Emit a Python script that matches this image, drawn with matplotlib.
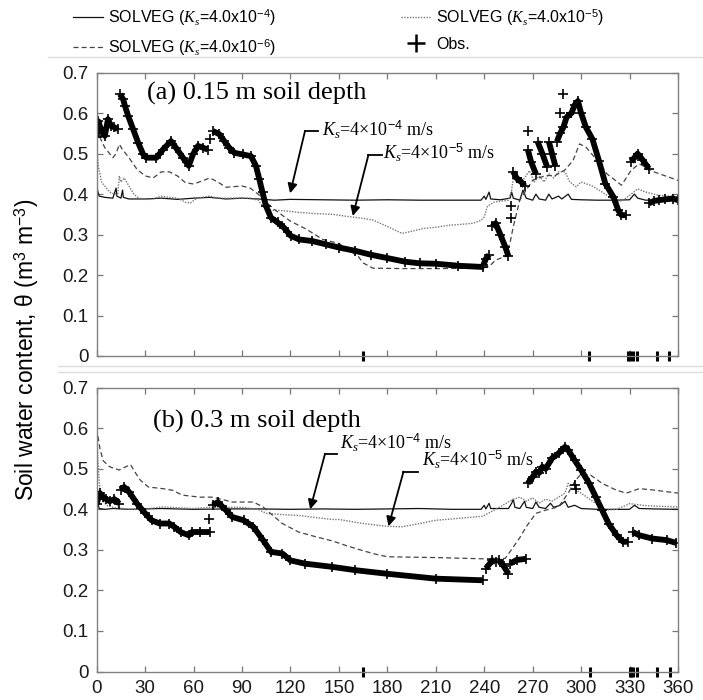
import numpy as np
import matplotlib
matplotlib.use("Agg")
import matplotlib.pyplot as plt
from matplotlib.lines import Line2D

plt.rcParams['font.family'] = ['Liberation Sans', 'DejaVu Sans']
plt.rcParams['mathtext.fontset'] = 'custom'
plt.rcParams['mathtext.rm'] = 'Liberation Sans'
plt.rcParams['mathtext.it'] = 'Liberation Serif:italic'
plt.rcParams['mathtext.sf'] = 'Liberation Sans'

nan = np.nan

# ---------------- data ----------------
x_ticks = [0, 30, 60, 90, 120, 150, 180, 210, 240, 270, 300, 330, 360]
y_ticks = [0, 0.1, 0.2, 0.3, 0.4, 0.5, 0.6, 0.7]
y_tick_labels = ['0', '0.1', '0.2', '0.3', '0.4', '0.5', '0.6', '0.7']

# Panel (a) 0.15 m
a_solid_d = [0, 0.5, 1.5, 5, 10, 12, 12.5, 15, 16, 16.5, 20, 30, 40, 50, 60, 70, 80, 90, 100, 110, 120, 140, 160,
             180, 200, 220, 238, 240, 241, 243, 244, 250, 256, 257, 258, 262, 264, 266, 270, 272, 274, 278, 280,
             282, 286, 288, 292, 294, 300, 310, 320, 330, 333, 335, 340, 350, 360]
a_solid_v = [0.45, 0.41, 0.395, 0.392, 0.39, 0.415, 0.395, 0.39, 0.41, 0.392, 0.388, 0.388, 0.39, 0.387, 0.39,
             0.392, 0.388, 0.39, 0.388, 0.385, 0.387, 0.386, 0.385, 0.386, 0.385, 0.385, 0.385, 0.395, 0.387,
             0.405, 0.388, 0.386, 0.39, 0.405, 0.39, 0.385, 0.41, 0.39, 0.385, 0.4, 0.388, 0.385, 0.4, 0.388,
             0.395, 0.388, 0.4, 0.387, 0.386, 0.385, 0.385, 0.386, 0.4, 0.39, 0.385, 0.386, 0.385]

a_dot_d = [0, 1, 3, 5, 8, 11, 13, 14, 15, 17, 20, 23, 26, 30, 35, 40, 45, 50, 55, 58, 62, 70, 75, 80, 90, 95, 100,
           103, 106, 112, 118, 125, 135, 146, 155, 165, 171, 180, 189, 195, 202, 210, 218, 225, 233, 238, 240,
           242, 246, 255, 257, 258, 260, 262, 265, 268, 271, 274, 277, 280, 283, 286, 290, 293, 297, 300, 307,
           315, 322, 326, 331, 335, 340, 348, 355, 360]
a_dot_v = [0.52, 0.47, 0.43, 0.42, 0.405, 0.4, 0.4, 0.445, 0.43, 0.44, 0.42, 0.4, 0.39, 0.387, 0.388, 0.395,
           0.392, 0.39, 0.38, 0.378, 0.39, 0.395, 0.39, 0.39, 0.39, 0.39, 0.385, 0.37, 0.36, 0.36, 0.358, 0.355,
           0.352, 0.35, 0.345, 0.34, 0.336, 0.32, 0.303, 0.308, 0.315, 0.318, 0.323, 0.325, 0.328, 0.335, 0.344,
           0.37, 0.38, 0.385, 0.41, 0.44, 0.43, 0.426, 0.44, 0.458, 0.43, 0.445, 0.43, 0.45, 0.44, 0.455, 0.455,
           0.43, 0.418, 0.43, 0.42, 0.4, 0.38, 0.385, 0.4, 0.413, 0.405, 0.397, 0.395, 0.393]

a_dash_d = [0, 2, 5, 8, 10, 12, 14, 16, 20, 25, 30, 35, 40, 45, 50, 55, 60, 65, 70, 75, 80, 90, 95, 100, 105, 110,
            120, 130, 140, 150, 155, 162, 165, 171, 190, 210, 239, 243, 247, 253, 256, 258, 262, 266, 270, 278,
            284, 290, 295, 299, 303, 310, 316, 325, 331, 336, 345, 360]
a_dash_v = [0.56, 0.54, 0.515, 0.5, 0.49, 0.5, 0.523, 0.51, 0.49, 0.461, 0.445, 0.44, 0.455, 0.455, 0.445, 0.428,
            0.425, 0.432, 0.44, 0.43, 0.417, 0.42, 0.415, 0.4, 0.38, 0.362, 0.333, 0.313, 0.288, 0.278, 0.265,
            0.246, 0.23, 0.217, 0.216, 0.216, 0.217, 0.221, 0.237, 0.246, 0.28, 0.32, 0.385, 0.41, 0.434, 0.446,
            0.446, 0.46, 0.483, 0.524, 0.516, 0.483, 0.45, 0.422, 0.459, 0.475, 0.455, 0.434]

# observations (NaN separates gaps)
a_obs_d = [0, 1, 3, 5, 7, 9, 11, 13, nan,
           14.4, 16.4, 17.5, 19.5, 22.6, 25.7, 28.8, 30.8, 37, 41, 46, 49, 53.4, 57, 59.6, 62.7, 65.7, 68.8, nan,
           71.9, 76, 79, 82, 85.3, 90.4, 95.5, 98.6, 100.7, 102.7, 104.8, 107.9, 112, 116, 120.2, 125.3, 133.6,
           141.8, 150, 160, 170, 180, 191, 200, 210, 224, 239, nan,
           239.5, 241, 243, nan,
           245, 247, 250, 253, 255, nan,
           258, 260, 263, 265, nan,
           267, 269, 272, nan,
           273, 276, 279, nan,
           280, 282, 284, nan,
           285, 287, 289, 291, 294, 296, 298, 300, 303, 307, 311, 315, 320, 323, 325, 328, nan,
           331, 333, 335, 338, 342, nan,
           342, 345, 348, 352, 357, 360]
a_obs_v = [0.54, 0.58, 0.556, 0.544, 0.585, 0.568, 0.565, 0.56, nan,
           0.647, 0.634, 0.618, 0.593, 0.56, 0.527, 0.498, 0.49, 0.49, 0.51, 0.531, 0.515, 0.49, 0.47, 0.498,
           0.519, 0.515, 0.51, nan,
           0.556, 0.548, 0.531, 0.515, 0.502, 0.498, 0.494, 0.47, 0.437, 0.404, 0.371, 0.342, 0.33, 0.317,
           0.297, 0.288, 0.284, 0.276, 0.268, 0.26, 0.25, 0.242, 0.233, 0.229, 0.228, 0.223, 0.22, nan,
           0.225, 0.24, 0.25, nan,
           0.32, 0.328, 0.3, 0.27, 0.246, nan,
           0.455, 0.44, 0.43, 0.42, nan,
           0.51, 0.48, 0.45, nan,
           0.53, 0.5, 0.467, nan,
           0.53, 0.5, 0.47, nan,
           0.53, 0.55, 0.565, 0.59, 0.6, 0.62, 0.63, 0.6, 0.565, 0.536, 0.483, 0.426, 0.393, 0.36, 0.348, 0.348, nan,
           0.48, 0.49, 0.5, 0.485, 0.463, nan,
           0.377, 0.383, 0.385, 0.387, 0.389, 0.385]
a_obs_extra_d = [70, 256.5, 256.5, 267, 287, 289]
a_obs_extra_v = [0.535, 0.34, 0.37, 0.557, 0.6, 0.647]
a_obs_zero_d = [165, 305, 329, 330.5, 332, 334.6, 347, 354.7]

# Panel (b) 0.3 m
b_solid_d = [0, 0.5, 1.5, 5, 10, 20, 40, 60, 80, 100, 120, 140, 160, 180, 200, 220, 238, 240, 241, 243, 244, 255,
             257, 258, 259, 262, 265, 266, 270, 272, 274, 278, 281, 283, 287, 290, 292, 296, 300, 310, 320, 330,
             333, 336, 345, 360]
b_solid_v = [0.46, 0.42, 0.402, 0.4, 0.402, 0.4, 0.402, 0.4, 0.401, 0.401, 0.4, 0.401, 0.4, 0.401, 0.402, 0.4,
             0.4, 0.41, 0.401, 0.415, 0.402, 0.402, 0.415, 0.425, 0.405, 0.402, 0.42, 0.405, 0.402, 0.418, 0.405,
             0.402, 0.415, 0.405, 0.41, 0.42, 0.405, 0.41, 0.402, 0.4, 0.4, 0.4, 0.41, 0.402, 0.401, 0.4]

b_dot_d = [0, 1, 2, 4, 6, 10, 20, 30, 40, 50, 60, 70, 80, 90, 100, 105, 115, 125, 135, 146, 150, 165, 180, 189,
           200, 210, 225, 239, 248, 257, 262, 266, 270, 274, 278, 282, 286, 290, 292, 294, 297, 300, 306, 315,
           322, 330, 338, 345, 360]
b_dot_v = [0.59, 0.5, 0.45, 0.42, 0.41, 0.405, 0.4, 0.4, 0.406, 0.404, 0.402, 0.405, 0.405, 0.405, 0.4, 0.39,
           0.387, 0.385, 0.38, 0.375, 0.375, 0.365, 0.358, 0.357, 0.365, 0.373, 0.378, 0.383, 0.402, 0.423,
           0.43, 0.42, 0.428, 0.415, 0.425, 0.42, 0.43, 0.44, 0.464, 0.45, 0.447, 0.44, 0.423, 0.398, 0.4,
           0.414, 0.41, 0.408, 0.406]

b_dash_d = [0, 2, 4, 8, 14, 18, 21, 24, 27, 32, 41, 47, 53, 64, 72, 84, 97, 103, 109, 115, 125, 136, 146, 155,
            164, 172, 180, 210, 239, 253, 258, 262, 266, 272, 278, 286, 292, 296, 300, 306, 313, 322, 328, 336,
            344, 360]
b_dash_v = [0.6, 0.55, 0.52, 0.505, 0.497, 0.505, 0.51, 0.49, 0.472, 0.455, 0.451, 0.447, 0.435, 0.43, 0.43,
            0.418, 0.418, 0.406, 0.385, 0.365, 0.344, 0.332, 0.322, 0.31, 0.299, 0.29, 0.283, 0.281, 0.278,
            0.279, 0.307, 0.33, 0.357, 0.39, 0.398, 0.406, 0.44, 0.468, 0.488, 0.484, 0.464, 0.447, 0.44,
            0.451, 0.448, 0.44]

b_obs_d = [0, 2, 4, 6, 8, 11, 14, nan,
           15, 17, 20, 25, 30, 34, 39, 45, 48, 52, 57, 59, 64, 70, nan,
           72, 75, 80, 84, 91, 97, 103, 108, 115, 120, 129, 146, 160, 180, 210, 239, nan,
           241, 245, 247, nan,
           249, 252, 255, nan,
           256, 260, 266, nan,
           267, 270, 272, 274, 276, 278, 282, 286, 290, 292, 296, 300, 305, 309, 313, 317, 322, 326, 329, nan,
           332, 336, 344, 353, 359]
b_obs_v = [0.414, 0.44, 0.43, 0.425, 0.42, 0.425, 0.414, nan,
           0.447, 0.455, 0.443, 0.414, 0.39, 0.373, 0.365, 0.365, 0.357, 0.344, 0.336, 0.344, 0.344, 0.344, nan,
           0.41, 0.418, 0.398, 0.381, 0.373, 0.357, 0.324, 0.295, 0.291, 0.274, 0.266, 0.258, 0.25, 0.241,
           0.229, 0.225, nan,
           0.254, 0.274, 0.27, nan,
           0.274, 0.26, 0.241, nan,
           0.266, 0.275, 0.278, nan,
           0.464, 0.48, 0.493, 0.49, 0.505, 0.5, 0.526, 0.538, 0.554, 0.546, 0.521, 0.497, 0.464, 0.431, 0.398,
           0.365, 0.336, 0.32, 0.32, nan,
           0.344, 0.336, 0.328, 0.324, 0.317]
b_obs_extra_d = [69.5, 296, 297]
b_obs_extra_v = [0.377, 0.46, 0.45]
b_obs_zero_d = [165, 305.6, 330, 331, 332, 334.8, 347.2, 355.2]

legend_labels = ['SOLVEG ($K_s$=4.0x10$^{-4}$)', 'SOLVEG ($K_s$=4.0x10$^{-6}$)',
                 'SOLVEG ($K_s$=4.0x10$^{-5}$)', 'Obs.']

# ---------------- figure ----------------
fig = plt.figure(figsize=(7.03, 7.00), dpi=100)
W, H = 703.0, 700.0

def px_axes(x0, y0, x1, y1):
    return fig.add_axes([x0 / W, 1 - y1 / H, (x1 - x0) / W, (y1 - y0) / H])

axa = px_axes(96.7, 72.7, 678, 356)
axb = px_axes(96.7, 387.7, 678, 671.5)

solid_kw = dict(color='#111111', lw=0.9, ls='-')
dot_kw = dict(color='#777777', lw=1.0, ls=(0, (1, 1)))
dash_kw = dict(color='#444444', lw=0.9, ls=(0, (4, 2.5)))
obs_line_kw = dict(color='black', lw=4.2, solid_capstyle='butt', solid_joinstyle='round')
obs_mk_kw = dict(ls='none', marker='+', color='black', ms=6.5, mew=1.2)

panels = [
    (axa, a_solid_d, a_solid_v, a_dot_d, a_dot_v, a_dash_d, a_dash_v, a_obs_d, a_obs_v,
     a_obs_extra_d, a_obs_extra_v, a_obs_zero_d),
    (axb, b_solid_d, b_solid_v, b_dot_d, b_dot_v, b_dash_d, b_dash_v, b_obs_d, b_obs_v,
     b_obs_extra_d, b_obs_extra_v, b_obs_zero_d),
]

for (ax, sd, sv, dd, dv, ed, ev, od, ov, xd, xv, zd) in panels:
    ax.plot(sd, sv, **solid_kw)
    ax.plot(dd, dv, **dot_kw)
    ax.plot(ed, ev, **dash_kw)
    ax.plot(od, ov, **obs_line_kw)
    ax.plot(od, ov, **obs_mk_kw)
    ax.plot(xd, xv, **obs_mk_kw)
    ax.plot(zd, [0] * len(zd), ls='none', marker='|', color='black', ms=7, mew=2.2, clip_on=False)
    ax.set_xlim(0, 360)
    ax.set_ylim(0, 0.7)
    ax.set_xticks(x_ticks)
    ax.set_yticks(y_ticks)
    ax.set_yticklabels(y_tick_labels)
    ax.tick_params(direction='in', length=4.5, width=0.9, color='#777777', top=True, right=True,
                   labelsize=13.5, labelcolor='#1a1a1a', pad=6)
    for s in ax.spines.values():
        s.set_color('#808080')
        s.set_linewidth(1.0)

axa.tick_params(labelbottom=False)

serif = 'Liberation Serif'
axa.text(31, 0.649, '(a) 0.15 m soil depth', family=serif, fontsize=19, va='center', ha='left')
axb.text(35, 0.617, '(b) 0.3 m soil depth', family=serif, fontsize=19, va='center', ha='left')

ann_kw = dict(family=serif, fontsize=13, va='center', ha='left')
arrow_kw = dict(arrowstyle='-|>', color='black', lw=1.3, mutation_scale=14, shrinkA=0, shrinkB=0)

# panel a annotations
axa.text(139.6, 0.559, '$K_s$=4×10$^{-4}$ m/s', **ann_kw)
axa.plot([137.1, 129.0], [0.556, 0.556], color='black', lw=1.3)
axa.annotate('', xy=(119.8, 0.402), xytext=(129.0, 0.556), arrowprops=arrow_kw)
axa.text(177.4, 0.502, '$K_s$=4×10$^{-5}$ m/s', **ann_kw)
axa.plot([176.6, 168.3], [0.497, 0.497], color='black', lw=1.3)
axa.annotate('', xy=(158.6, 0.346), xytext=(168.3, 0.497), arrowprops=arrow_kw)

# panel b annotations
axb.text(150.7, 0.564, '$K_s$=4×10$^{-4}$ m/s', **ann_kw)
axb.plot([148.7, 141.4], [0.537, 0.537], color='black', lw=1.3)
axb.annotate('', xy=(132.2, 0.40), xytext=(141.4, 0.537), arrowprops=arrow_kw)
axb.text(201.4, 0.523, '$K_s$=4×10$^{-5}$ m/s', **ann_kw)
axb.plot([198.7, 190.0], [0.493, 0.493], color='black', lw=1.3)
axb.annotate('', xy=(180.7, 0.358), xytext=(190.0, 0.493), arrowprops=arrow_kw)

# y label
fig.text(27 / W, 1 - 350 / H, 'Soil water content, θ (m$^3$ m$^{-3}$)', rotation=90,
         ha='center', va='center', fontsize=16.5)

# separator lines
for (x0, x1, y) in [(48, 703, 56.7), (58, 703, 366), (58, 703, 372.3)]:
    fig.add_artist(Line2D([x0 / W, x1 / W], [1 - y / H, 1 - y / H], color='#dddddd', lw=1.0))

# legend
leg_handles = [Line2D([], [], **solid_kw), Line2D([], [], **dash_kw), Line2D([], [], **dot_kw),
               Line2D([], [], ls='none', marker='+', color='black', ms=13, mew=1.8)]
fig.legend(leg_handles, legend_labels, ncol=2, frameon=False, fontsize=11.5,
           loc='upper left', bbox_to_anchor=(73 / W, 1 - 7 / H), handlelength=1.9,
           columnspacing=7.8, labelspacing=0.55, handletextpad=0.3, borderpad=0, borderaxespad=0)

fig.savefig('out.png', dpi=100)
